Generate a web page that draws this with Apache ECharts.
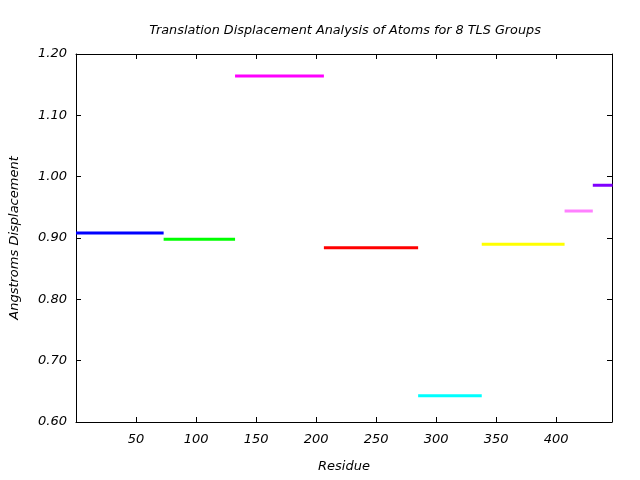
<!DOCTYPE html>
<html>
<head>
<meta charset="utf-8">
<script src="https://cdn.jsdelivr.net/npm/echarts@6/dist/echarts.min.js"></script>
<style>html,body{margin:0;padding:0;background:#fff;}#c{width:640px;height:480px;}</style>
</head>
<body>
<div id="c"></div>
<script>
var groupStarts = [0, 73, 132.5, 206.5, 285, 338, 407, 430.5];
var groupEnds = [73, 132.5, 206.5, 285, 338, 407, 430.5, 447];
var displacements = [0.908, 0.898, 1.164, 0.884, 0.643, 0.890, 0.944, 0.986];
var groupColors = ['#0000ff', '#00ff00', '#ff00ff', '#ff0000', '#00ffff', '#ffff00', '#ff80ff', '#8000ff'];
var xTicks = [50, 100, 150, 200, 250, 300, 350, 400];
var yTicks = [0.60, 0.70, 0.80, 0.90, 1.00, 1.10, 1.20];

var font = 'DejaVu Sans';
var series = groupStarts.map(function (s, i) {
  return {
    type: 'line',
    name: 'Group ' + (i + 1),
    data: [[s, displacements[i]], [groupEnds[i], displacements[i]]],
    showSymbol: false,
    symbol: 'none',
    clip: false,
    lineStyle: { color: groupColors[i], width: 3 },
    silent: true,
    z: 3
  };
});

var chart = echarts.init(document.getElementById('c'));
chart.setOption({
  animation: false,
  backgroundColor: '#fff',
  title: {
    text: 'Translation Displacement Analysis of Atoms for 8 TLS Groups',
    left: 340, top: 19, textAlign: 'center',
    textStyle: { fontFamily: font, fontStyle: 'italic', fontWeight: 'normal', fontSize: 12.8, color: '#000' }
  },
  grid: { left: 76, right: 28, top: 54, bottom: 58, show: false },
  xAxis: [{
    type: 'value', min: 0, max: 446.5, interval: 50,
    name: 'Residue', nameLocation: 'middle', nameGap: 38,
    nameTextStyle: { fontFamily: font, fontStyle: 'italic', fontSize: 13, color: '#000' },
    axisLine: { show: true, lineStyle: { color: '#000', width: 1 } },
    axisTick: { show: true, inside: true, length: 5, lineStyle: { color: '#000' } },
    axisLabel: {
      fontFamily: font, fontStyle: 'italic', fontSize: 13, color: '#000', margin: 11,
      showMinLabel: false, showMaxLabel: false,
      formatter: function (v) { return xTicks.indexOf(v) >= 0 ? String(v) : ''; }
    },
    splitLine: { show: false }
  }, {
    type: 'value', min: 0, max: 446.5, interval: 50, position: 'top',
    axisLine: { show: true, onZero: false, lineStyle: { color: '#000', width: 1 } },
    axisTick: { show: true, inside: true, length: 5, lineStyle: { color: '#000' } },
    axisLabel: { show: false },
    splitLine: { show: false }
  }],
  yAxis: [{
    type: 'value', min: 0.6, max: 1.2, interval: 0.1,
    name: 'Angstroms Displacement', nameLocation: 'middle', nameGap: 55,
    nameTextStyle: { fontFamily: font, fontStyle: 'italic', fontSize: 13, color: '#000' },
    axisLine: { show: true, lineStyle: { color: '#000', width: 1 } },
    axisTick: { show: true, inside: true, length: 5, lineStyle: { color: '#000' } },
    axisLabel: {
      fontFamily: font, fontStyle: 'italic', fontSize: 13, color: '#000', margin: 9,
      formatter: function (v) { return v.toFixed(2); }
    },
    splitLine: { show: false }
  }, {
    type: 'value', min: 0.6, max: 1.2, interval: 0.1, position: 'right',
    axisLine: { show: true, onZero: false, lineStyle: { color: '#000', width: 1 } },
    axisTick: { show: true, inside: true, length: 5, lineStyle: { color: '#000' } },
    axisLabel: { show: false },
    splitLine: { show: false }
  }],
  series: series
});
</script>
</body>
</html>
